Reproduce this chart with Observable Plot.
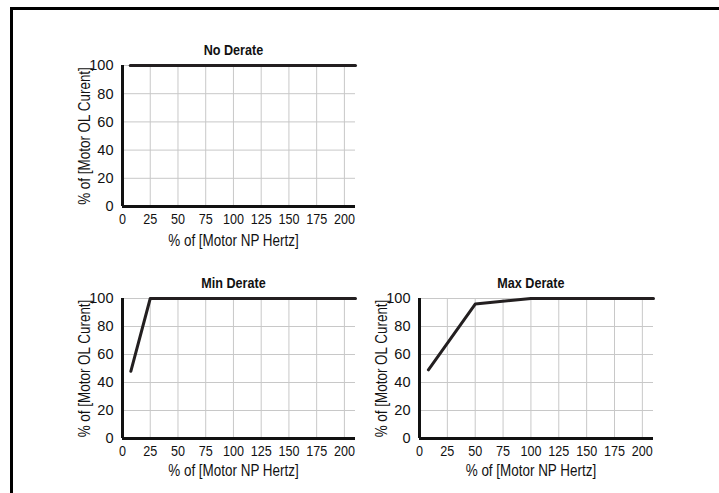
<!DOCTYPE html>
<html>
<head>
<meta charset="utf-8">
<script src="https://cdn.jsdelivr.net/npm/d3@7"></script>
<script src="https://cdn.jsdelivr.net/npm/@observablehq/plot@0.6"></script>
<style>
  html, body { margin: 0; padding: 0; background: #fff; overflow: hidden; }
  #wrap { position: relative; width: 719px; height: 493px; overflow: hidden;
          font-family: "Liberation Sans", Arial, sans-serif; }
  #frame { position: absolute; left: 10px; top: 7px; width: 720px; height: 500px;
           border-top: 3px solid #000; border-left: 3px solid #000; box-sizing: border-box; }
  .panel { position: absolute; }
</style>
</head>
<body>
<div id="wrap"><div id="frame"></div></div>
<script>
// Tick values
const xTicks = [0, 25, 50, 75, 100, 125, 150, 175, 200];
const yTicks = [0, 20, 40, 60, 80, 100];
const xGridTicks = [25, 50, 75, 100, 125, 150, 175, 200];
const yGridTicks = [20, 40, 60, 80, 100];

// Panel titles and axis labels
const titles = ["No Derate", "Min Derate", "Max Derate"];
const xLabel = "% of [Motor NP Hertz]";
const yLabel = "% of [Motor OL Curent]";

// Series values
const noDerateX = [7, 210];
const noDerateY = [100, 100];
const minDerateX = [7.5, 25, 210];
const minDerateY = [48, 100, 100];
const maxDerateX = [8, 50, 100, 210];
const maxDerateY = [49, 96, 100, 100];

const toRows = (xs, ys) => xs.map((x, i) => ({x, y: ys[i]}));

const FONT = `"Liberation Sans", Arial, sans-serif`;

function condense(nodes, factor) {
  nodes.forEach(t => {
    if (t.hasAttribute("textLength")) return;
    const len = t.getComputedTextLength();
    if (len > 0) {
      t.setAttribute("textLength", (len * factor).toFixed(2));
      t.setAttribute("lengthAdjust", "spacingAndGlyphs");
    }
  });
}

function panel(title, rows, left, top, width, height, xLabelDy) {
  const chart = Plot.plot({
    width, height,
    marginLeft: 82, marginRight: 10, marginTop: 35, marginBottom: 50,
    style: {fontFamily: FONT, fontSize: "15px", color: "#111", background: "transparent"},
    x: {domain: [0, 210], ticks: xTicks, label: null},
    y: {domain: [0, 100], ticks: yTicks, label: null},
    marks: [
      Plot.gridX(xGridTicks, {stroke: "#c8c8c8", strokeOpacity: 1, strokeWidth: 1}),
      Plot.gridY(yGridTicks, {stroke: "#c8c8c8", strokeOpacity: 1, strokeWidth: 1}),
      Plot.axisX(xTicks, {tickSize: 0, tickPadding: 7, label: null, fontSize: 15}),
      Plot.axisY(yTicks, {tickSize: 0, tickPadding: 9, label: null, fontSize: 15}),
      Plot.line(rows, {x: "x", y: "y", stroke: "#231f20", strokeWidth: 3}),
      Plot.ruleX([0], {stroke: "#111", strokeWidth: 3}),
      Plot.ruleY([0], {stroke: "#111", strokeWidth: 3}),
      Plot.text([title], {x: [100], frameAnchor: "top", text: d => d, dy: -15, lineAnchor: "middle",
                          fontWeight: "bold", fontSize: 15, fill: "#111"}),
      Plot.text([xLabel], {x: [100], frameAnchor: "bottom", text: d => d, dy: xLabelDy, lineAnchor: "middle",
                           fontSize: 16, fill: "#111"}),
      Plot.text([yLabel], {frameAnchor: "left", text: d => d, dx: -38, rotate: -90,
                           textAnchor: "middle", fontSize: 16, fill: "#111"})
    ]
  });
  chart.classList.add("panel");
  chart.style.left = left + "px";
  chart.style.top = top + "px";
  document.getElementById("wrap").appendChild(chart);
  // condense the glyphs horizontally (Helvetica Condensed look); text stays real text
  condense(chart.querySelectorAll('g[aria-label="y-axis tick label"] text'), 0.97);
  condense(chart.querySelectorAll("text"), 0.84);
}

panel(titles[0], toRows(noDerateX, noDerateY), 40, 30, 325, 226, 34);
panel(titles[1], toRows(minDerateX, minDerateY), 40, 263, 325, 225, 32);
panel(titles[2], toRows(maxDerateX, maxDerateY), 337, 263, 326, 225, 32);
</script>
</body>
</html>
